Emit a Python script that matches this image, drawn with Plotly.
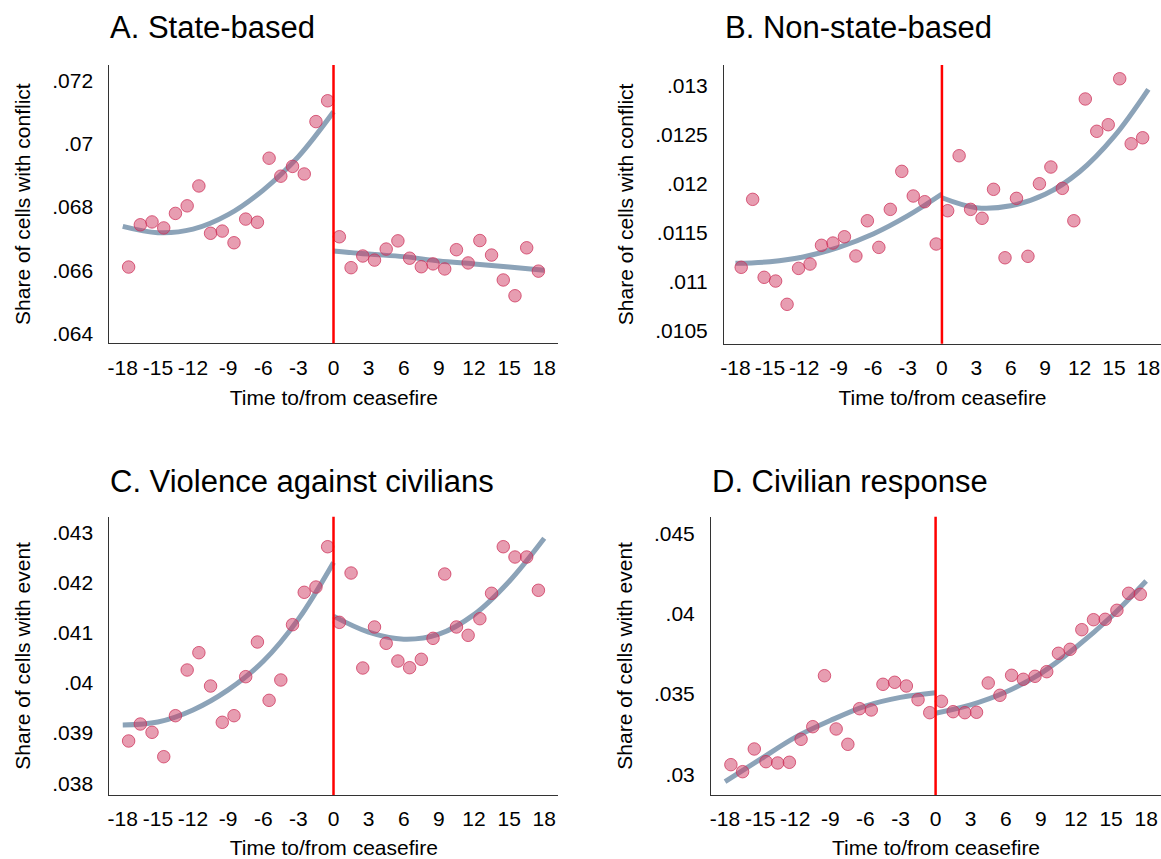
import plotly.graph_objects as go

# ---------------- data ----------------
x_pre = [-17.5, -16.5, -15.5, -14.5, -13.5, -12.5, -11.5, -10.5, -9.5,
         -8.5, -7.5, -6.5, -5.5, -4.5, -3.5, -2.5, -1.5, -0.5]
x_post = [0.5, 1.5, 2.5, 3.5, 4.5, 5.5, 6.5, 7.5, 8.5,
          9.5, 10.5, 11.5, 12.5, 13.5, 14.5, 15.5, 16.5, 17.5]
fit_x_pre = [-18, -15, -12, -9, -6, -3, 0]
fit_x_post = [0, 3, 6, 9, 12, 15, 18]

# A. State-based
a_pre = [0.0661, 0.06744, 0.06753, 0.06734, 0.0678, 0.06804, 0.06867, 0.06717, 0.06724,
         0.06687, 0.06762, 0.06752, 0.06955, 0.06898, 0.06929, 0.06905, 0.07071, 0.07137]
a_post = [0.06706, 0.06608, 0.06645, 0.06632, 0.06667, 0.06693, 0.06638, 0.06611, 0.0662,
          0.06604, 0.06665, 0.06623, 0.06694, 0.06648, 0.06569, 0.06519, 0.06671, 0.06597]
a_fit_pre = [0.06739, 0.06719, 0.0673, 0.06776, 0.06854, 0.0696, 0.07102]
a_fit_post = [0.06661, 0.06651, 0.06643, 0.06629, 0.0662, 0.0661, 0.066]

# B. Non-state-based
b_pre = [0.011149, 0.011841, 0.011047, 0.011009, 0.010772, 0.011138, 0.011182, 0.011373, 0.011396,
         0.01146, 0.011264, 0.011623, 0.011352, 0.011739, 0.012126, 0.011875, 0.011817, 0.011386]
b_post = [0.011725, 0.012285, 0.011739, 0.011648, 0.011943, 0.011246, 0.011851, 0.011261, 0.0120,
          0.01217, 0.011953, 0.011623, 0.012863, 0.012534, 0.012601, 0.013069, 0.012407, 0.012468]
b_fit_pre = [0.011189, 0.011206, 0.011257, 0.011352, 0.011488, 0.011672, 0.011895]
b_fit_post = [0.011857, 0.011756, 0.011776, 0.011892, 0.012122, 0.012479, 0.012961]

# C. Violence against civilians
c_pre = [0.038843, 0.039181, 0.039016, 0.03853, 0.039347, 0.040257, 0.040602, 0.039938, 0.039215,
         0.039347, 0.040124, 0.040815, 0.039653, 0.040058, 0.04116, 0.041805, 0.04191, 0.042713]
c_post = [0.041207, 0.042189, 0.040297, 0.041114, 0.040789, 0.040436, 0.040303, 0.04047, 0.040888,
          0.042169, 0.041114, 0.040948, 0.041279, 0.041785, 0.042713, 0.042508, 0.042508, 0.041845]
c_fit_pre = [0.03916, 0.03922, 0.03946, 0.03986, 0.04043, 0.04127, 0.04240]
c_fit_post = [0.04133, 0.04101, 0.04087, 0.04097, 0.04136, 0.04202, 0.04288]

# D. Civilian response
d_pre = [0.030598, 0.030162, 0.031575, 0.030785, 0.030704, 0.030747, 0.032179, 0.032964, 0.036139,
         0.032821, 0.031868, 0.034085, 0.034004, 0.035604, 0.035729, 0.035498, 0.034645, 0.033836]
d_post = [0.034545, 0.033898, 0.033836, 0.033861, 0.035685, 0.034919, 0.036164, 0.035915, 0.036102,
          0.036389, 0.037534, 0.037783, 0.039004, 0.039626, 0.039651, 0.040212, 0.04127, 0.041208]
d_fit_pre = [0.02954, 0.03093, 0.0323, 0.03335, 0.03425, 0.03479, 0.03508]
d_fit_post = [0.0338, 0.03432, 0.03512, 0.03629, 0.03791, 0.03981, 0.04204]

x_ticks = [-18, -15, -12, -9, -6, -3, 0, 3, 6, 9, 12, 15, 18]
x_ticktext = ["-18", "-15", "-12", "-9", "-6", "-3", "0", "3", "6", "9", "12", "15", "18"]

titles = ["A. State-based", "B. Non-state-based", "C. Violence against civilians", "D. Civilian response"]
y_titles = ["Share of cells with conflict", "Share of cells with conflict",
            "Share of cells with event", "Share of cells with event"]
y_ticks = [
    [0.064, 0.066, 0.068, 0.07, 0.072],
    [0.0105, 0.011, 0.0115, 0.012, 0.0125, 0.013],
    [0.038, 0.039, 0.04, 0.041, 0.042, 0.043],
    [0.03, 0.035, 0.04, 0.045],
]
y_ticktext = [
    [".064", ".066", ".068", ".07", ".072"],
    [".0105", ".011", ".0115", ".012", ".0125", ".013"],
    [".038", ".039", ".04", ".041", ".042", ".043"],
    [".03", ".035", ".04", ".045"],
]
x_title = "Time to/from ceasefire"

# ---------------- layout geometry ----------------
W, H = 1161, 859
FONT = "Helvetica, Liberation Sans, Arial, sans-serif"
MARKER_FILL = "rgba(208, 60, 100, 0.5)"
MARKER_EDGE = "rgba(205, 50, 90, 0.75)"
FIT_COLOR = "#8CA3B8"

panels = [
    dict(pre=a_pre, post=a_post, fpre=a_fit_pre, fpost=a_fit_post,
         xdom=(109.3, 558.3), ydom=(65, 343.3), xr=(-19.15, 19.2), yr=(0.063683, 0.072504),
         title_x=108, title_y=28),
    dict(pre=b_pre, post=b_post, fpre=b_fit_pre, fpost=b_fit_post,
         xdom=(724, 1161), ydom=(65, 343.7), xr=(-19.0, 19.1), yr=(0.010371, 0.013209),
         title_x=723, title_y=28),
    dict(pre=c_pre, post=c_post, fpre=c_fit_pre, fpost=c_fit_post,
         xdom=(109.3, 558.3), ydom=(516.7, 795), xr=(-19.15, 19.2), yr=(0.037767, 0.043311),
         title_x=108, title_y=481),
    dict(pre=d_pre, post=d_post, fpre=d_fit_pre, fpost=d_fit_post,
         xdom=(711, 1161), ydom=(516.7, 795), xr=(-19.2, 19.27), yr=(0.02871, 0.04604),
         title_x=710, title_y=481),
]

fig = go.Figure()
annotations = []
shapes = []

for i, p in enumerate(panels):
    n = "" if i == 0 else str(i + 1)
    xa, ya = "x" + n, "y" + n
    # fitted lines
    for fx, fy in ((fit_x_pre, p["fpre"]), (fit_x_post, p["fpost"])):
        fig.add_trace(go.Scatter(
            x=fx, y=fy, mode="lines", xaxis=xa, yaxis=ya,
            line=dict(color=FIT_COLOR, width=5, shape="spline", smoothing=1.0),
            showlegend=False, hoverinfo="skip"))
    # binned means
    fig.add_trace(go.Scatter(
        x=x_pre + x_post, y=p["pre"] + p["post"], mode="markers", xaxis=xa, yaxis=ya,
        marker=dict(size=12.5, color=MARKER_FILL, line=dict(color=MARKER_EDGE, width=1)),
        showlegend=False))

    x0, x1 = p["xdom"]
    yt, yb = p["ydom"]
    fig.update_layout(**{
        ("xaxis" + n): dict(
            domain=[x0 / W, min(x1 / W, 1.0)], range=list(p["xr"]), anchor=ya,
            automargin=False,
            tickmode="array", tickvals=x_ticks, ticktext=x_ticktext,
            ticks="outside", ticklen=5, tickcolor="rgba(0,0,0,0)",
            showline=True, linecolor="#333333", linewidth=1,
            showgrid=False, zeroline=False,
            tickfont=dict(family=FONT, size=21, color="black"),
            title=dict(text=x_title, font=dict(family=FONT, size=21, color="black"), standoff=12),
        ),
        ("yaxis" + n): dict(
            domain=[1 - yb / H, 1 - yt / H], range=list(p["yr"]), anchor=xa,
            automargin=False,
            tickmode="array", tickvals=y_ticks[i], ticktext=y_ticktext[i],
            ticks="outside", ticklen=11, tickcolor="rgba(0,0,0,0)",
            showline=True, linecolor="#333333", linewidth=1,
            showgrid=False, zeroline=False,
            tickfont=dict(family=FONT, size=21, color="black"),
            title=dict(text=y_titles[i], font=dict(family=FONT, size=21, color="black"), standoff=15),
        ),
    })
    # ceasefire line
    shapes.append(dict(type="line", xref=xa, yref=ya + " domain", x0=0, x1=0, y0=0, y1=1,
                       line=dict(color="#FF0000", width=2.5)))
    annotations.append(dict(text=titles[i], xref="paper", yref="paper",
                            x=p["title_x"] / W, y=1 - p["title_y"] / H,
                            xanchor="left", yanchor="middle", showarrow=False,
                            font=dict(family=FONT, size=31, color="black")))

fig.update_layout(
    width=W, height=H,
    margin=dict(l=0, r=0, t=0, b=0, autoexpand=False),
    paper_bgcolor="white", plot_bgcolor="white",
    shapes=shapes, annotations=annotations,
    showlegend=False,
)

fig.write_html(
    "out.html",
    config={"displayModeBar": False},
    post_script="document.body.style.margin='0';document.body.style.padding='0';"
                "document.body.style.overflow='hidden';",
)
